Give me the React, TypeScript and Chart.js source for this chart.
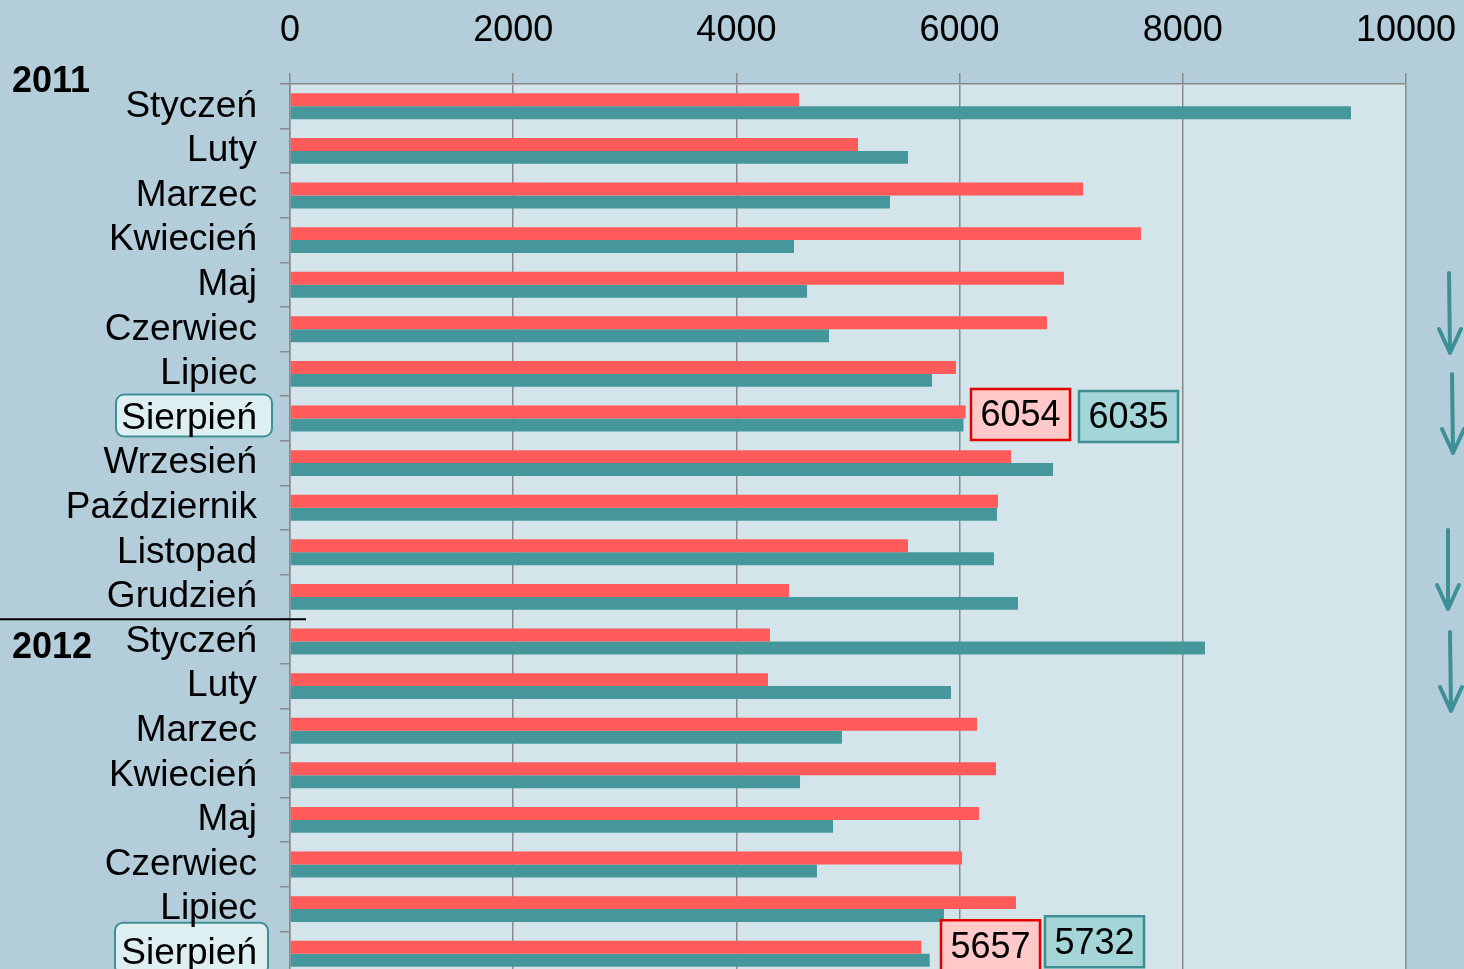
import React, { useEffect, useRef } from "react";
import { Chart, registerables } from "chart.js";
Chart.register(...registerables);

const months = [
  "Styczeń", "Luty", "Marzec", "Kwiecień", "Maj", "Czerwiec", "Lipiec", "Sierpień",
  "Wrzesień", "Październik", "Listopad", "Grudzień",
  "Styczeń", "Luty", "Marzec", "Kwiecień", "Maj", "Czerwiec", "Lipiec", "Sierpień",
];
const yearLabels = ["2011", "2012"];
const redValues = [
  4561, 5090, 7106, 7625, 6935, 6783, 5968, 6054, 6461, 6344, 5538, 4471,
  4301, 4283, 6156, 6326, 6174, 6022, 6505, 5657,
];
const tealValues = [
  9507, 5538, 5376, 4516, 4633, 4830, 5753, 6035, 6837, 6335, 6308, 6523,
  8199, 5923, 4946, 4570, 4866, 4722, 5860, 5732,
];
const highlightedRows = [7, 19];

const FONT = "'Liberation Sans', Arial, sans-serif";
const RED = "#FF5B5B";
const TEAL = "#46979C";
const GRID = "#8A8A8A";
const W = 1464;
const H = 990;

function roundRect(ctx: CanvasRenderingContext2D, x: number, y: number, w: number, h: number, r: number) {
  ctx.beginPath();
  ctx.moveTo(x + r, y);
  ctx.lineTo(x + w - r, y);
  ctx.arcTo(x + w, y, x + w, y + r, r);
  ctx.lineTo(x + w, y + h - r);
  ctx.arcTo(x + w, y + h, x + w - r, y + h, r);
  ctx.lineTo(x + r, y + h);
  ctx.arcTo(x, y + h, x, y + h - r, r);
  ctx.lineTo(x, y + r);
  ctx.arcTo(x, y, x + r, y, r);
  ctx.closePath();
}

function arrow(ctx: CanvasRenderingContext2D, x0: number, y0: number, x1: number, y1: number) {
  ctx.save();
  ctx.strokeStyle = "#3D9095";
  ctx.lineWidth = 4;
  ctx.lineCap = "round";
  ctx.lineJoin = "round";
  ctx.beginPath();
  ctx.moveTo(x0, y0);
  ctx.lineTo(x1, y1);
  ctx.moveTo(x1 - 11, y1 - 24);
  ctx.lineTo(x1, y1);
  ctx.lineTo(x1 + 11, y1 - 24);
  ctx.stroke();
  ctx.restore();
}

const decoPlugin = {
  id: "deco",
  beforeDraw(chart: any) {
    const { ctx, chartArea, scales } = chart;
    ctx.save();
    ctx.fillStyle = "#B3CEDA";
    ctx.fillRect(0, 0, chart.width, chart.height);
    ctx.fillStyle = "#D3E5EA";
    ctx.fillRect(chartArea.left, chartArea.top, chartArea.right - chartArea.left, chartArea.bottom - chartArea.top);
    const y = scales.y;
    highlightedRows.forEach((row, i) => {
      const cy = y.getPixelForValue(row);
      const top = i === 0 ? cy - 24 : cy - 31;
      ctx.fillStyle = "#DDEFF1";
      ctx.strokeStyle = "#3E9096";
      ctx.lineWidth = 2;
      roundRect(ctx, i === 0 ? 116 : 115, top, i === 0 ? 156 : 153, 42 + (i === 0 ? 0 : 10), 8);
      ctx.fill();
      ctx.stroke();
    });
    ctx.restore();
  },
  afterDraw(chart: any) {
    const { ctx, scales } = chart;
    const y = scales.y;
    ctx.save();
    ctx.fillStyle = "#000";
    ctx.font = `bold 36px ${FONT}`;
    ctx.textAlign = "left";
    ctx.textBaseline = "middle";
    ctx.fillText(yearLabels[0], 12, y.getPixelForValue(0) - 24);
    ctx.fillText(yearLabels[1], 12, y.getPixelForValue(12) + 7);
    const sepY = (y.getPixelForValue(11) + y.getPixelForValue(12)) / 2;
    ctx.strokeStyle = "#000";
    ctx.lineWidth = 2;
    ctx.beginPath();
    ctx.moveTo(0, sepY);
    ctx.lineTo(306, sepY);
    ctx.stroke();
    const boxes = [
      { row: 7, x: 971, dy: -4, w: 99, val: redValues[7], fill: "#FFC9C9", stroke: "#E00000" },
      { row: 7, x: 1079, dy: -2, w: 99, val: tealValues[7], fill: "#A3D5D9", stroke: "#3E8F94" },
      { row: 19, x: 941, dy: -8, w: 99, val: redValues[19], fill: "#FFC9C9", stroke: "#E00000" },
      { row: 19, x: 1045, dy: -12, w: 99, val: tealValues[19], fill: "#A3D5D9", stroke: "#3E8F94" },
    ];
    ctx.font = `36px ${FONT}`;
    ctx.textAlign = "center";
    boxes.forEach((b) => {
      const cy = y.getPixelForValue(b.row) + b.dy;
      const h = 51;
      ctx.fillStyle = b.fill;
      ctx.strokeStyle = b.stroke;
      ctx.lineWidth = 2.5;
      ctx.beginPath();
      ctx.rect(b.x, cy - h / 2, b.w, h);
      ctx.fill();
      ctx.stroke();
      ctx.fillStyle = "#000";
      ctx.fillText(String(b.val), b.x + b.w / 2, cy + 2);
    });
    arrow(ctx, 1449, 273, 1450, 353);
    arrow(ctx, 1452, 374, 1453, 453);
    arrow(ctx, 1448, 530, 1448, 609);
    arrow(ctx, 1450, 632, 1451, 711);
    ctx.restore();
  },
};

export default function App() {
  const ref = useRef<HTMLCanvasElement>(null);
  useEffect(() => {
    document.body.style.margin = "0";
    document.body.style.overflow = "hidden";
    const chart = new Chart(ref.current!, {
      type: "bar",
      data: {
        labels: months,
        datasets: [
          { data: redValues, backgroundColor: RED, borderWidth: 0, categoryPercentage: 0.58, barPercentage: 1 },
          { data: tealValues, backgroundColor: TEAL, borderWidth: 0, categoryPercentage: 0.58, barPercentage: 1 },
        ],
      },
      options: {
        indexAxis: "y",
        responsive: false,
        maintainAspectRatio: false,
        animation: false,
        layout: { padding: { left: 0, top: 0, right: 58, bottom: 14 } },
        plugins: { legend: { display: false }, tooltip: { enabled: false } },
        scales: {
          x: {
            position: "top",
            min: 0,
            max: 10000,
            ticks: {
              stepSize: 2000, color: "#000", font: { family: FONT, size: 36 }, padding: 20, maxRotation: 0, autoSkip: false,
              callback: (v: any) => String(v),
            },
            grid: { color: GRID, lineWidth: 1.5, tickLength: 11, drawOnChartArea: true },
            border: { display: true, color: GRID, width: 1.5 },
            afterFit: (s: any) => { s.height = 84; s.paddingLeft = 0; s.paddingRight = 0; },
          },
          y: {
            ticks: { color: "#000", font: { family: FONT, size: 37 }, padding: 23, autoSkip: false },
            grid: { display: true, drawOnChartArea: false, drawTicks: true, tickLength: 10, offset: true, color: GRID, lineWidth: 1.5 },
            border: { display: true, color: GRID, width: 1.5 },
            afterFit: (s: any) => { s.width = 290; s.paddingTop = 0; s.paddingBottom = 0; },
          },
        },
      },
      plugins: [decoPlugin],
    } as any);
    return () => chart.destroy();
  }, []);
  return (
    <div style={{ position: "fixed", left: 0, top: 0, width: W, height: 969, overflow: "hidden", background: "#B3CEDA" }}>
      <canvas ref={ref} width={W} height={H} style={{ display: "block", width: W, height: H }} />
    </div>
  );
}
